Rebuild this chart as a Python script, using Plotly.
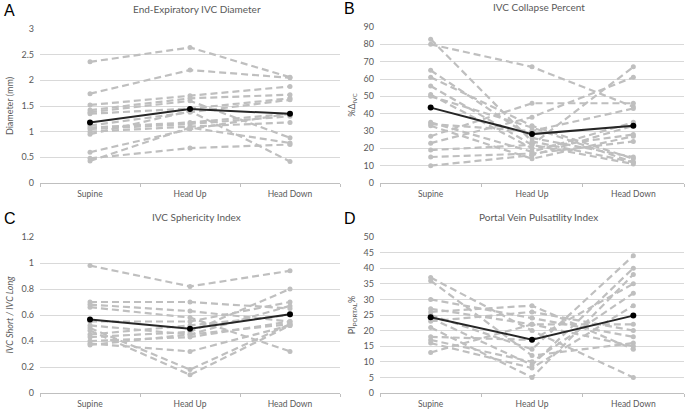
import plotly.graph_objects as go

conditions = ["Supine", "Head Up", "Head Down"]

# Panel A: End-expiratory IVC diameter (per subject: supine, head up, head down)
diam_subjects = [
    [2.36, 2.64, 2.06], [1.74, 2.20, 2.05], [1.52, 1.70, 1.88], [1.42, 1.65, 1.72],
    [1.38, 1.60, 0.88], [1.35, 1.45, 1.65], [1.12, 1.38, 1.62], [1.08, 1.18, 1.35],
    [1.05, 1.15, 1.30], [1.00, 1.10, 1.18], [0.95, 1.40, 0.42], [0.60, 1.05, 1.35],
    [0.48, 0.68, 0.75], [0.43, 1.08, 0.78],
]
diam_mean = [1.18, 1.44, 1.35]

# Panel B: IVC collapse percent
collapse_subjects = [
    [83, 24, 12], [80, 67, 44], [65, 26, 15], [61, 33, 14], [56, 22, 11],
    [51, 20, 28], [50, 32, 12], [35, 18, 35], [34, 30, 43], [33, 14, 27],
    [27, 46, 46], [23, 38, 61], [19, 22, 67], [15, 17, 24], [10, 16, 33],
]
collapse_mean = [43.5, 28.2, 33.0]

# Panel C: IVC sphericity index
spher_subjects = [
    [0.98, 0.82, 0.94], [0.70, 0.70, 0.65], [0.68, 0.63, 0.55], [0.66, 0.58, 0.32],
    [0.55, 0.55, 0.70], [0.52, 0.45, 0.67], [0.50, 0.18, 0.53], [0.48, 0.14, 0.52],
    [0.45, 0.52, 0.60], [0.43, 0.47, 0.80], [0.40, 0.43, 0.55], [0.38, 0.32, 0.52],
    [0.37, 0.45, 0.53],
]
spher_mean = [0.565, 0.495, 0.605]

# Panel D: Portal vein pulsatility index
portal_subjects = [
    [37, 20, 5], [36, 12, 16], [30, 24, 18], [27, 22, 15], [26, 28, 14],
    [25, 14, 44], [24, 9, 40], [23, 26, 20], [21, 5, 38], [18, 17, 35],
    [17, 10, 32], [16, 8, 28], [13, 22, 22],
]
portal_mean = [24.3, 17.1, 24.8]

W, H = 685, 410
FONT = "Lato"
GRAY_TXT = "#595959"

panels = [
    dict(letter="A", title="End-Expiratory IVC Diameter", ytitle="Diameter (mm)",
         subj=diam_subjects, mean=diam_mean, yr=[0, 3], dt=0.5,
         xpx=(40, 340), ypx=(29, 183)),
    dict(letter="B", title="IVC Collapse Percent", ytitle="%Δ<sub>IVC</sub>",
         subj=collapse_subjects, mean=collapse_mean, yr=[0, 90], dt=10,
         xpx=(380, 684), ypx=(27, 183)),
    dict(letter="C", title="IVC Sphericity Index", ytitle="<i>IVC Short / IVC Long</i>",
         subj=spher_subjects, mean=spher_mean, yr=[0, 1.2], dt=0.2,
         xpx=(40, 340), ypx=(237, 393)),
    dict(letter="D", title="Portal Vein Pulsatility Index", ytitle="PI<sub>PORTAL</sub>%",
         subj=portal_subjects, mean=portal_mean, yr=[0, 50], dt=5,
         xpx=(380, 684), ypx=(237, 393)),
]

fig = go.Figure()
layout = dict(
    width=W, height=H, margin=dict(l=0, r=0, t=0, b=0, pad=0, autoexpand=False),
    paper_bgcolor="white", plot_bgcolor="white", showlegend=False,
    font=dict(family=FONT, size=9, color=GRAY_TXT),
)
annotations = []
for i, p in enumerate(panels):
    k = "" if i == 0 else str(i + 1)
    xa, ya = "x" + k, "y" + k
    for s in p["subj"]:
        fig.add_trace(go.Scatter(
            x=conditions, y=s, xaxis=xa, yaxis=ya, mode="lines+markers",
            line=dict(color="#bfbfbf", width=2.2, dash="7px,4px"),
            marker=dict(color="#bfbfbf", size=5), hoverinfo="skip"))
    fig.add_trace(go.Scatter(
        x=conditions, y=p["mean"], xaxis=xa, yaxis=ya, mode="lines+markers",
        line=dict(color="#262626", width=2), marker=dict(color="black", size=6)))
    x0, x1 = p["xpx"]
    yt, yb = p["ypx"]
    layout["xaxis" + k] = dict(
        domain=[x0 / W, x1 / W], anchor=ya, type="category", automargin=False,
        categoryorder="array", categoryarray=conditions, range=[-0.5, 2.5],
        showgrid=False, showline=True, linecolor="#bfbfbf", linewidth=1,
        ticks="outside", tickson="boundaries", ticklen=3, tickcolor="#bfbfbf",
        ticklabelstandoff=3,
        tickfont=dict(size=8.5, color=GRAY_TXT, family=FONT), zeroline=False,
        fixedrange=True)
    layout["yaxis" + k] = dict(
        domain=[1 - yb / H, 1 - yt / H], anchor=xa, range=p["yr"], dtick=p["dt"],
        automargin=False,
        showgrid=True, gridcolor="#d9d9d9", gridwidth=1, zeroline=False,
        showline=False, ticks="", ticklen=0, ticklabelstandoff=5,
        tickfont=dict(size=9, color=GRAY_TXT, family=FONT),
        title=dict(text=p["ytitle"], font=dict(size=9, color=GRAY_TXT, family=FONT),
                   standoff=6),
        fixedrange=True)
    annotations.append(dict(
        text=p["title"], x=(x0 + x1) / 2 / W + 0.01, y=1 - (yt - 20) / H,
        xref="paper", yref="paper", showarrow=False, xanchor="center", yanchor="middle",
        font=dict(size=10, color=GRAY_TXT, family=FONT)))
    annotations.append(dict(
        text=p["letter"], x=(x0 - 38) / W, y=1 - (yt - 19) / H,
        xref="paper", yref="paper", showarrow=False, xanchor="left", yanchor="middle",
        font=dict(size=16, color="black", family="Liberation Sans")))

layout["annotations"] = annotations
fig.update_layout(**layout)
fig.write_html("out.html", config={"displayModeBar": False},
               post_script="document.body.style.margin='0';")
